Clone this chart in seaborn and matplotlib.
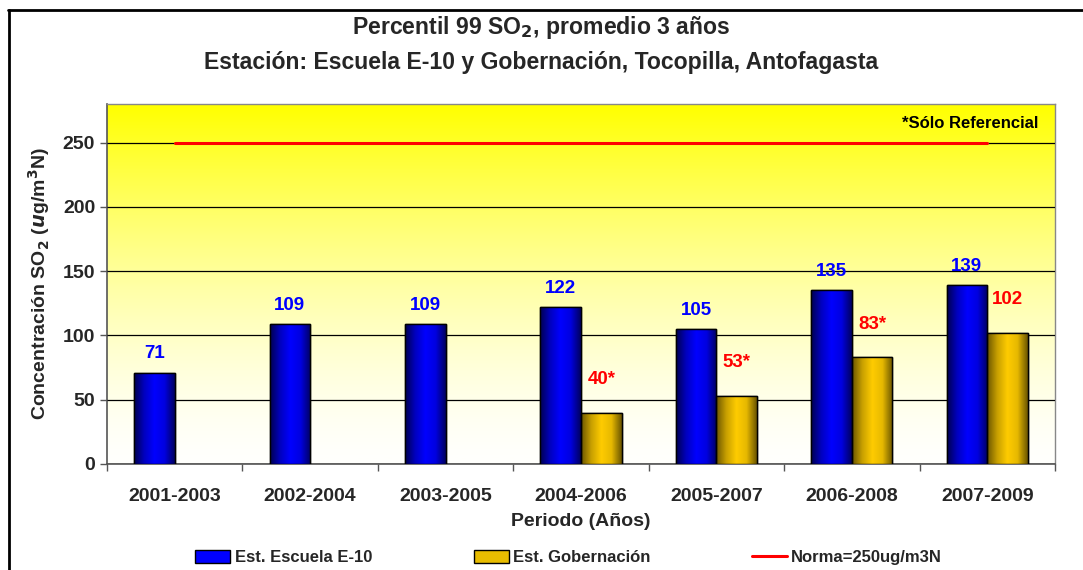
import numpy as np
import pandas as pd
import matplotlib
matplotlib.use("Agg")
import matplotlib.pyplot as plt
import seaborn as sns
from matplotlib.colors import LinearSegmentedColormap
from matplotlib.lines import Line2D
from matplotlib.patches import Patch

periods = ["2001-2003", "2002-2004", "2003-2005", "2004-2006", "2005-2007", "2006-2008", "2007-2009"]
escuela = [71, 109, 109, 122, 105, 135, 139]
gobernacion = [np.nan, np.nan, np.nan, 40, 53, 83, 102]
gob_labels = ["", "", "", "40*", "53*", "83*", "102"]
norma = 250
series_names = ["Est. Escuela E-10", "Est. Gobernación"]

sns.set_theme(style="white")
plt.rcParams["font.family"] = ["Liberation Sans", "DejaVu Sans"]
plt.rcParams["font.weight"] = "bold"

df = pd.DataFrame({
    "Periodo": periods * 2,
    "Serie": [series_names[0]] * 7 + [series_names[1]] * 7,
    "Valor": escuela + gobernacion,
})

fig = plt.figure(figsize=(10.83, 5.70), dpi=100)
ax = fig.add_axes([0.0988, 0.186, 0.8753, 0.6315])

# yellow-to-white background of the plot area
grad = np.linspace(0, 1, 256).reshape(-1, 1) ** 1.5
bg_cmap = LinearSegmentedColormap.from_list("bg", ["#FFFFFC", "#FFFF00"])
ax.imshow(grad, cmap=bg_cmap, aspect="auto", extent=[0, 1, 0, 1],
          transform=ax.transAxes, origin="lower", zorder=0)

sns.barplot(data=df, x="Periodo", y="Valor", hue="Serie",
            palette=["#0000EE", "#E0B400"], width=0.6, ax=ax,
            edgecolor="black", linewidth=1.0, zorder=3, legend=False)

n = len(periods)
blue_bars = {int(round(p.get_x() + p.get_width())): p for p in ax.containers[0].patches
             if np.isfinite(p.get_height())}
gold_bars = {int(round(p.get_x())): p for p in ax.containers[1].patches
             if np.isfinite(p.get_height())}

# shaded fill of each bar
blue_cmap = LinearSegmentedColormap.from_list("b", ["#000050", "#0000C0", "#0000FF", "#0000E0", "#000060"])
gold_cmap = LinearSegmentedColormap.from_list("g", ["#6A5500", "#C8A000", "#FFCC00", "#E6B800", "#6A5500"])
hgrad = np.linspace(0, 1, 128).reshape(1, -1)
for bars, cm in [(blue_bars, blue_cmap), (gold_bars, gold_cmap)]:
    for p in bars.values():
        h = p.get_height()
        x0, w = p.get_x(), p.get_width()
        im = ax.imshow(hgrad, cmap=cm, aspect="auto", extent=[x0, x0 + w, 0, h],
                       origin="lower", zorder=3.5)
        im.set_clip_path(p)
        ax.add_patch(plt.Rectangle((x0, 0), w, h, fill=False, edgecolor="black",
                                   linewidth=1.0, zorder=4))

ax.set_xlim(-0.5, n - 0.5)
ax.set_ylim(0, 280)

# value labels
for i in range(n):
    p = blue_bars[i]
    ax.text(p.get_x() + p.get_width() / 2, escuela[i] + 8, f"{escuela[i]}",
            ha="center", va="bottom", color="#0000FF", fontsize=13.5, fontweight="bold", zorder=6)
    if i in gold_bars and gob_labels[i]:
        g = gold_bars[i]
        ax.text(g.get_x() + g.get_width() / 2, gobernacion[i] + 19, gob_labels[i],
                ha="center", va="bottom", color="#FF0000", fontsize=13.5, fontweight="bold", zorder=6)

# standard line
ax.plot([0, n - 1], [norma, norma], color="#FF0000", linewidth=2.2, zorder=5)

ax.set_yticks([0, 50, 100, 150, 200, 250])
ax.yaxis.grid(True, color="black", linewidth=0.9)
ax.set_axisbelow(False)
for gl in ax.get_ygridlines():
    gl.set_zorder(2)
ax.set_xticks(range(n))
ax.set_xticklabels(periods)
ax.set_xticks(np.arange(-0.5, n, 1), minor=True)
ax.tick_params(axis="x", which="major", length=0, pad=17, labelsize=14)
ax.tick_params(axis="x", which="minor", length=5, width=1, color="#555555", direction="out", bottom=True)
ax.tick_params(axis="y", length=5, width=1, color="#555555", direction="out", left=True, labelsize=14)
for lbl in ax.get_xticklabels() + ax.get_yticklabels():
    lbl.set_fontweight("bold")

for side in ["top", "right"]:
    ax.spines[side].set_color("#888888")
    ax.spines[side].set_linewidth(1.0)
for side in ["left", "bottom"]:
    ax.spines[side].set_color("#555555")
    ax.spines[side].set_linewidth(1.2)

ax.set_xlabel("Periodo (Años)", fontsize=14, fontweight="bold", labelpad=6)
ax.set_ylabel("Concentración SO$_2$ ($\\mathbfit{u}$g/m$^3$N)", fontsize=14, fontweight="bold", labelpad=8)

ax.text(0.983, 0.968, "*Sólo Referencial", transform=ax.transAxes, ha="right", va="top",
        fontsize=12, fontweight="bold", color="black", zorder=7)

fig.text(0.5, 0.951, "Percentil 99 SO$_\\mathbf{2}$, promedio 3 años", ha="center", va="center",
         fontsize=16.6, fontweight="bold")
fig.text(0.5, 0.891, "Estación: Escuela E-10 y Gobernación, Tocopilla, Antofagasta", ha="center",
         va="center", fontsize=16.6, fontweight="bold")

# legend
handles = [
    Patch(facecolor="#0000FF", edgecolor="black", label=series_names[0]),
    Patch(facecolor="#E8BC00", edgecolor="black", label=series_names[1]),
    Line2D([0], [0], color="#FF0000", linewidth=2.2, label="Norma=250ug/m3N"),
]
fig.legend(handles=handles, loc="center", bbox_to_anchor=(0.525, 0.022), ncol=3, frameon=False,
           prop={"weight": "bold", "size": 12}, columnspacing=6.1, handlelength=2.1, handletextpad=0.25,
           handleheight=0.8)

# outer frame
fig.add_artist(Line2D([8 / 1083, 1.0], [1 - 9.5 / 570, 1 - 9.5 / 570], color="black", linewidth=2,
                      transform=fig.transFigure))
fig.add_artist(Line2D([8.5 / 1083, 8.5 / 1083], [0, 1 - 9.5 / 570], color="black", linewidth=2,
                      transform=fig.transFigure))

fig.savefig("out.png", dpi=100, facecolor="white")
